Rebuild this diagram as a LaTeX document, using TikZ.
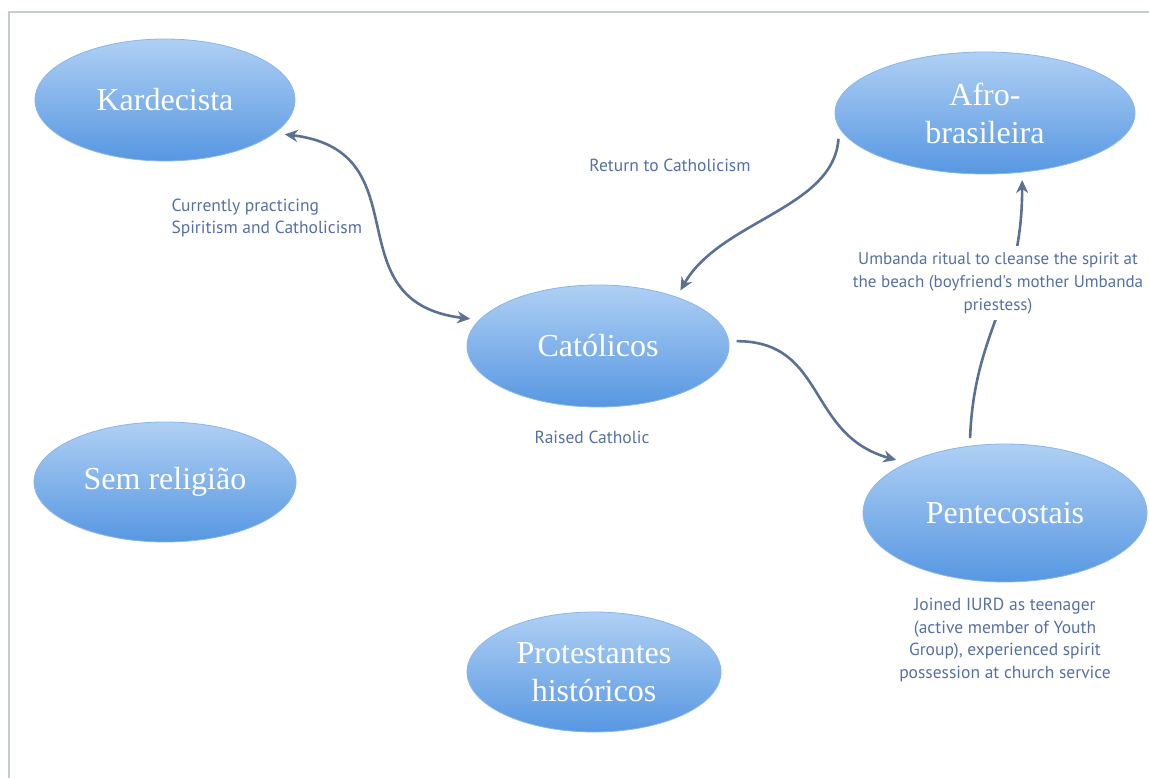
\documentclass[tikz,border=0pt]{standalone}
\usepackage{fontspec}
\setmainfont{Liberation Serif}
\newfontfamily\notefont{PT Sans}
\usepackage{xcolor}
\usepackage{tikz}
\usetikzlibrary{shapes.geometric,arrows.meta}
\definecolor{frame}{HTML}{C5CCD6}
\definecolor{eltop}{HTML}{AFD0F4}
\definecolor{elbot}{HTML}{5797E2}
\definecolor{eledge}{HTML}{8AB6EA}
\definecolor{arrow}{HTML}{5B7193}
\definecolor{note}{HTML}{5670A6}
\tikzset{
  frameline/.style={draw=frame, line width=1.6pt},
  relig/.style={ellipse, top color=eltop, bottom color=elbot, draw=eledge,
    line width=0.8pt, inner sep=0pt, outer sep=8pt, text=white,
    font=\fontsize{32}{38}\selectfont, align=center},
  move/.style={draw=arrow, line width=2.6pt, -{Stealth[length=13pt,width=12pt]}},
  note/.style={text=note, font=\notefont\fontsize{17.5}{22.5}\selectfont, align=center}
}

\begin{document}
\begin{tikzpicture}[x=1pt,y=-1pt]
  \useasboundingbox (0,0) rectangle (1149,778);
  \draw[frameline] (9,778) -- (9,12) -- (1149,12);

  % religions
  \node[relig, minimum width=260, minimum height=122] (kard) at (165,100) {Kardecista};
  \node[relig, minimum width=300, minimum height=122] (afro) at (985,113) {Afro-\\brasileira};
  \node[relig, minimum width=262, minimum height=122] (cat) at (598,346) {Católicos};
  \node[relig, minimum width=284, minimum height=138] (pent) at (1005,513) {Pentecostais};
  \node[relig, minimum width=262, minimum height=120] (sem) at (165,482) {Sem religião};
  \node[relig, minimum width=254, minimum height=120] (prot) at (594,672) {Protestantes\\históricos};

  % moves between them
  \draw[move, {Stealth[length=13pt,width=12pt]}-{Stealth[length=13pt,width=12pt]}]
    (kard.-16) .. controls +(140,17) and +(-140,-17) .. (cat.168);
  \draw[move] (afro.190) .. controls +(-5,70) and +(40,-70) .. (cat.34);
  \draw[move] (cat.2) .. controls +(90,0) and +(-90,-25) .. (pent.154);
  \draw[move] (pent.115) .. controls +(4,-110) and +(0,120) .. (afro.-61);

  % notes
  \node[note, align=left, anchor=west] (spirit) at (168,218) {Currently practicing\\Spiritism and Catholicism};
  \node[note] (return) at (670,165) {Return to Catholicism};
  \node[note] (raised) at (592,437) {Raised Catholic};
  \node[note, fill=white, inner sep=6pt, font=\notefont\fontsize{17}{23}\selectfont] (umbanda) at (998,283)
    {Umbanda ritual to cleanse the spirit at\\the beach (boyfriend's mother Umbanda\\priestess)};
  \node[note] (iurd) at (1005,640)
    {Joined IURD as teenager\\(active member of Youth\\Group), experienced spirit\\possession at church service};
\end{tikzpicture}
\end{document}
